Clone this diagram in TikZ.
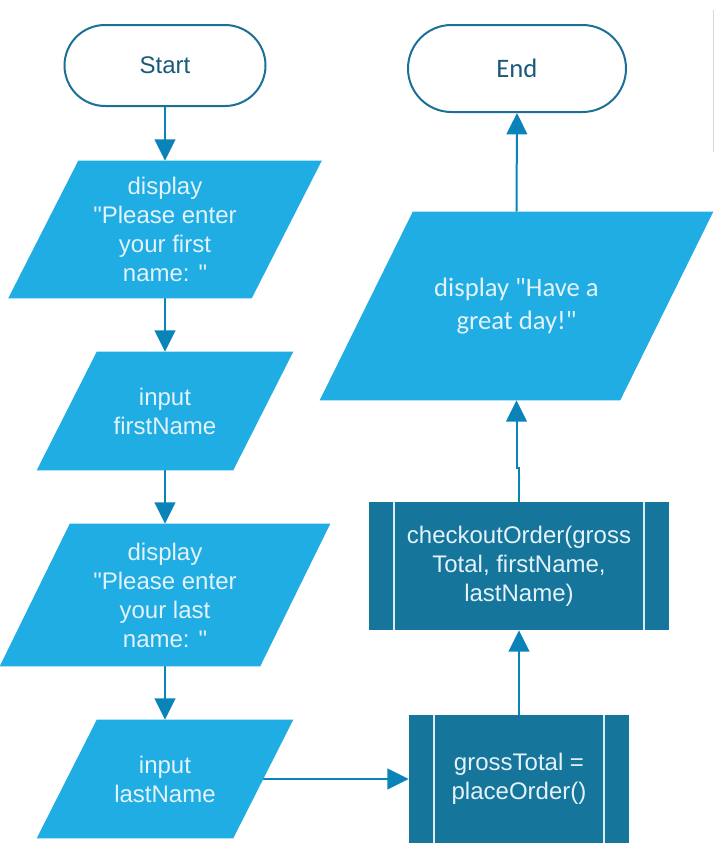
\documentclass[tikz,border=0pt]{standalone}
\usepackage{fontspec}
\setmainfont{Liberation Sans}
\newfontfamily\arialfont{Liberation Sans}
\newfontfamily\calfont{Carlito}
\usetikzlibrary{arrows.meta,shapes.misc,calc}
\definecolor{iofill}{HTML}{1FADE3}
\definecolor{boxfill}{HTML}{15759B}
\definecolor{arrowc}{HTML}{0A83B9}
\definecolor{termline}{HTML}{1C7095}
\definecolor{termtext}{HTML}{1B5B7A}
\definecolor{lighttext}{HTML}{E4F2F9}
\definecolor{divline}{HTML}{DCEBF2}
\definecolor{edgegray}{HTML}{D3DADE}
\pgfdeclarelayer{lines}
\pgfdeclarelayer{bg}
\pgfsetlayers{lines,bg,main}
\begin{document}
\begin{tikzpicture}[x=0.75pt,y=-0.75pt,
  arialtxt/.style={font=\arialfont\fontsize{18}{21.75}\selectfont},
  calibtxt/.style={font=\calfont\fontsize{20}{24.75}\selectfont},
  pxw/.style={minimum width=#1*0.75pt},
  pxh/.style={minimum height=#1*0.75pt},
  term/.style={rounded rectangle, draw=termline, line width=1.5pt, fill=white, text=termtext, inner sep=0pt},
  iotext/.style={rectangle, inner sep=0pt, text=lighttext, align=center},
  predef/.style={rectangle, fill=boxfill, inner sep=0pt, text=lighttext, align=center, arialtxt,
     path picture={
       \draw[divline, line width=1.2pt] ([xshift=18.75pt]path picture bounding box.north west) -- ([xshift=18.75pt]path picture bounding box.south west);
       \draw[divline, line width=1.2pt] ([xshift=-18.75pt]path picture bounding box.north east) -- ([xshift=-18.75pt]path picture bounding box.south east);}},
  flow/.style={draw=arrowc, line width=1.5pt, -{Triangle[length=16pt,width=15.5pt]}}
]
\useasboundingbox (0,0) rectangle (714,860);

% terminals
\node[term, arialtxt, pxw=201, pxh=81] (start) at (165,65.5) {Start};
\node[term, calibtxt, pxw=218, pxh=87] (end) at (517,68.5) {End};

% input/output nodes (parallelograms filled below)
\node[iotext, arialtxt, pxw=243, pxh=137] (p1) at (165,229.5) {display\\"Please enter\\your first\\name: "};
\node[iotext, arialtxt, pxw=196, pxh=118] (p2) at (165,411) {input\\firstName};
\node[iotext, arialtxt, pxw=260, pxh=142] (p3) at (165,595) {display\\"Please enter\\your last\\name: "};
\node[iotext, arialtxt, pxw=196, pxh=118] (p4) at (165,779) {input\\lastName};
\node[iotext, calibtxt, pxw=300, pxh=188] (d) at (516.5,306) {display "Have a\\great day!"};

% predefined processes
\node[predef, pxw=300, pxh=128] (c) at (519,566) {checkoutOrder(gross\\Total, firstName,\\lastName)};
\node[predef, pxw=220, pxh=128] (g) at (519,779) {grossTotal =\\placeOrder()};

\begin{pgfonlayer}{bg}
\foreach \n/\s in {p1/35,p2/30,p3/35,p4/30,d/46.5}{
  \fill[iofill] ($(\n.north west)+(\s,0)$) -- ($(\n.north east)+(\s,0)$)
     -- ($(\n.south east)+(-\s,0)$) -- ($(\n.south west)+(-\s,0)$) -- cycle;
}
\end{pgfonlayer}

\begin{pgfonlayer}{lines}
\draw[flow] (start.south) -- (p1.north);
\draw[flow] (p1.south) -- (p2.north);
\draw[flow] (p2.south) -- (p3.north);
\draw[flow] (p3.south) -- (p4.north);
\draw[flow] (p4.center) -- (g.west);
\draw[flow] (g.north) -- (c.south);
\draw[flow] (c.north) -- ++(0,-34) -| (d.south);
\draw[flow] (d.north) -- (end.south);
\end{pgfonlayer}

% thin edge line at the right
\draw[edgegray, line width=0.75pt] (713,10) -- (713,152);
\end{tikzpicture}
\end{document}
